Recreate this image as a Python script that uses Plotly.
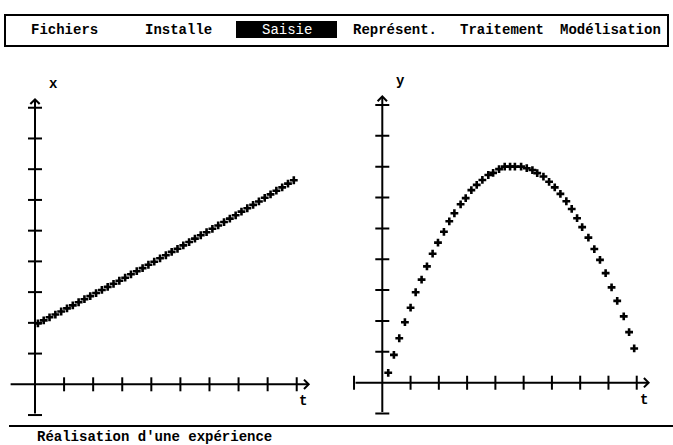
import plotly.graph_objects as go
from plotly.subplots import make_subplots

# ---- data (tick units) ----
menu_items = ["Fichiers", "Installe", "Saisie", "Représent.", "Traitement", "Modélisation"]
selected_item = "Saisie"
status_text = "Réalisation d'une expérience"

tick_values = [1, 2, 3, 4, 5, 6, 7, 8, 9]

t_left = [0.1, 0.3, 0.5, 0.7, 0.9, 1.1, 1.3, 1.5, 1.7, 1.9, 2.1, 2.3, 2.5, 2.7, 2.9,
          3.1, 3.3, 3.5, 3.7, 3.9, 4.1, 4.3, 4.5, 4.7, 4.9, 5.1, 5.3, 5.5, 5.7, 5.9,
          6.1, 6.3, 6.5, 6.7, 6.9, 7.1, 7.3, 7.5, 7.7, 7.9, 8.1, 8.3, 8.5, 8.7, 8.9]
x_values = [1.98, 2.08, 2.18, 2.27, 2.37, 2.47, 2.57, 2.67, 2.77, 2.87, 2.97, 3.07, 3.17, 3.27, 3.37,
            3.47, 3.58, 3.68, 3.78, 3.89, 3.99, 4.10, 4.20, 4.31, 4.41, 4.52, 4.63, 4.74, 4.85, 4.95,
            5.06, 5.17, 5.28, 5.39, 5.50, 5.62, 5.73, 5.84, 5.95, 6.07, 6.18, 6.30, 6.41, 6.53, 6.64]

t_right = [0.21, 0.41, 0.60, 0.80, 1.00, 1.18, 1.39, 1.58, 1.78, 1.97, 2.18, 2.37, 2.55, 2.77, 2.95,
           3.15, 3.34, 3.54, 3.75, 3.92, 4.13, 4.33, 4.52, 4.69, 4.91, 5.11, 5.31, 5.48, 5.70, 5.90,
           6.10, 6.30, 6.51, 6.70, 6.89, 7.07, 7.29, 7.50, 7.70, 7.90, 8.11, 8.31, 8.54, 8.73, 8.91]
y_values = [0.32, 0.90, 1.44, 1.96, 2.43, 2.93, 3.34, 3.77, 4.18, 4.54, 4.89, 5.23, 5.49, 5.78, 5.98,
            6.24, 6.41, 6.57, 6.73, 6.80, 6.92, 7.00, 7.00, 7.00, 7.00, 6.95, 6.89, 6.79, 6.68, 6.51,
            6.33, 6.12, 5.88, 5.63, 5.33, 5.04, 4.70, 4.33, 3.98, 3.55, 3.09, 2.65, 2.15, 1.64, 1.11]

W, H = 673, 445
FONT = "Liberation Mono"

fig = make_subplots(rows=1, cols=2)

panels = [
    dict(t=t_left, v=x_values, col=1, xr="x", yr="y", xstart=-0.89, xbar=False,
         xend=9.46, yend=9.32, label="x"),
    dict(t=t_right, v=y_values, col=2, xr="x2", yr="y2", xstart=-1.0, xbar=True,
         xend=9.47, yend=9.32, label="y"),
]

for p in panels:
    # data points
    fig.add_trace(go.Scatter(x=p["t"], y=p["v"], mode="markers",
                             marker=dict(symbol="cross", size=6.5, color="black",
                                         line=dict(width=0)),
                             hoverinfo="skip"), row=1, col=p["col"])
    # ticks on vertical axis
    fig.add_trace(go.Scatter(x=[0] * (len(tick_values) + 1), y=tick_values + [-1], mode="markers",
                             marker=dict(symbol="line-ew", size=10,
                                         line=dict(width=2, color="black")),
                             hoverinfo="skip"), row=1, col=p["col"])
    # ticks on horizontal axis
    hx = tick_values + ([-1] if p["xbar"] else [])
    fig.add_trace(go.Scatter(x=hx, y=[0] * len(hx), mode="markers",
                             marker=dict(symbol="line-ns", size=10,
                                         line=dict(width=2, color="black")),
                             hoverinfo="skip"), row=1, col=p["col"])
    # axis lines with arrow heads
    fig.add_annotation(x=p["xend"], y=0, ax=p["xstart"], ay=0, xref=p["xr"], yref=p["yr"],
                       axref=p["xr"], ayref=p["yr"], text="", showarrow=True,
                       arrowhead=4, arrowwidth=2, arrowsize=0.9, arrowcolor="black")
    fig.add_annotation(x=0, y=p["yend"], ax=0, ay=-1.0, xref=p["xr"], yref=p["yr"],
                       axref=p["xr"], ayref=p["yr"], text="", showarrow=True,
                       arrowhead=4, arrowwidth=2, arrowsize=0.9, arrowcolor="black")


def px2paper(px, py):
    return px / W, 1 - py / H


def add_text(txt, px, py, color="black", size=14, weight=700, anchor="center"):
    x, y = px2paper(px, py)
    fig.add_annotation(x=x, y=y, xref="paper", yref="paper", text=txt, showarrow=False,
                       xanchor=anchor, yanchor="middle",
                       font=dict(family=FONT, size=size, color=color, weight=weight))


# axis labels
add_text("x", 53, 84)
add_text("t", 303, 401)
add_text("y", 400, 81)
add_text("t", 644, 400)

# menu bar
x0, y1 = px2paper(5, 15)
x1, y0 = px2paper(668, 46)
fig.add_shape(type="rect", xref="paper", yref="paper", x0=x0, x1=x1, y0=y0, y1=y1,
              line=dict(color="black", width=2))
hx0, hy1 = px2paper(236, 21)
hx1, hy0 = px2paper(337, 38)
fig.add_shape(type="rect", xref="paper", yref="paper", x0=hx0, x1=hx1, y0=hy0, y1=hy1,
              fillcolor="black", line=dict(width=0))
menu_centers = [64, 178, 287, 395, 502, 610]
for name, cx in zip(menu_items, menu_centers):
    if name == selected_item:
        add_text(name, cx, 29.5, color="white", weight=400)
    else:
        add_text(name, cx, 29.5)

# status line
lx0, ly = px2paper(9, 426)
fig.add_shape(type="line", xref="paper", yref="paper", x0=lx0, x1=1, y0=ly, y1=ly,
              line=dict(color="black", width=2))
add_text(status_text, 35, 437, anchor="left")

fig.update_layout(
    width=W, height=H, margin=dict(l=0, r=0, t=0, b=0),
    paper_bgcolor="white", plot_bgcolor="white", showlegend=False,
    xaxis=dict(domain=[0, 0.5], range=[-1.2036, 10.368], visible=False),
    yaxis=dict(domain=[0, 1], range=[-1.975, 12.506], visible=False),
    xaxis2=dict(domain=[0.5, 1], range=[-1.620, 10.283], visible=False),
    yaxis2=dict(domain=[0, 1], range=[-2.019, 12.401], visible=False),
)

fig.write_html("out.html", config={"displayModeBar": False},
               post_script="document.body.style.margin='0';document.body.style.overflow='hidden';")
